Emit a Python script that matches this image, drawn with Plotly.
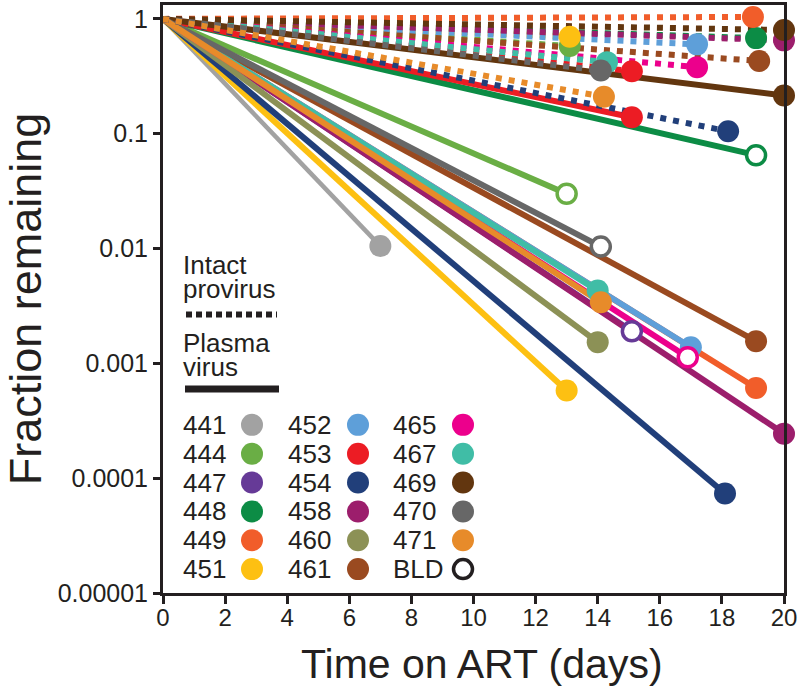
import plotly.graph_objects as go

# ---------------- data ----------------
ids = ["441", "444", "447", "448", "449", "451", "452", "453", "454",
       "458", "460", "461", "465", "467", "469", "470", "471"]
colors = ["#a2a2a2", "#6aae45", "#663a97", "#0c8c45", "#f15d2a", "#fdc012",
          "#5e9fd9", "#ec1c24", "#213f7a", "#9c1e6c", "#8c9156", "#9a4a20",
          "#ec008c", "#40bda6", "#62360f", "#676767", "#e78b2a"]
# plasma virus (solid) end points
plasma_day = [7.0, 13.0, 15.1, 19.1, 19.1, 13.0, 17.0, 15.1, 18.1,
              20.0, 14.0, 19.1, 16.9, 14.0, 20.0, 14.1, 14.1]
plasma_val = [0.0105, 0.030, 0.0019, 0.065, 0.00061, 0.00058, 0.00138, 0.139, 0.0000736,
              0.000244, 0.00153, 0.00156, 0.00113, 0.0043, 0.215, 0.0104, 0.0034]
plasma_bld = [False, True, True, True, False, False, False, False, False,
              False, False, False, True, False, False, True, False]
# intact provirus (dotted) end points, None = not measured
intact_day = [None, 13.1, None, 19.1, 19.0, 13.1, 17.2, 15.1, 18.2,
              20.0, None, 19.2, 17.2, 14.3, 20.0, 14.1, 14.2]
intact_val = [None, 0.58, None, 0.68, 1.04, 0.70, 0.60, 0.35, 0.105,
              0.65, None, 0.43, 0.38, 0.42, 0.80, 0.355, 0.21]

y_tickvals = [1e-5, 1e-4, 1e-3, 1e-2, 1e-1, 1]
y_ticktext = ["0.00001", "0.0001", "0.001", "0.01", "0.1", "1"]
x_tickvals = [0, 2, 4, 6, 8, 10, 12, 14, 16, 18, 20]
bld_label = "BLD"
x_title = "Time on ART (days)"
y_title = "Fraction remaining"

# ---------------- figure ----------------
W, H = 800, 694
ML, MR, MT, MB = 163, 16, 2, 101
PW, PH = W - ML - MR, H - MT - MB
AX = "#231f20"
NARROW = "Liberation Sans Narrow, Arial Narrow, Liberation Sans, Arial, sans-serif"
SANS = "Liberation Sans, Arial, sans-serif"

def px2x(px):
    return (px - ML) / PW

def py2y(py):
    return (H - MB - py) / PH

fig = go.Figure()

# solid plasma lines
for i, c in enumerate(colors):
    fig.add_trace(go.Scatter(
        x=[0, plasma_day[i]], y=[1, plasma_val[i]], mode="lines",
        line=dict(color=c, width=4.5 if ids[i] == "441" else 6),
        hoverinfo="skip", showlegend=False))

# dotted intact lines
for i, c in enumerate(colors):
    if intact_day[i] is None:
        continue
    fig.add_trace(go.Scatter(
        x=[0, intact_day[i]], y=[1, intact_val[i]], mode="lines",
        line=dict(color=c, width=6, dash="6px,7px"),
        hoverinfo="skip", showlegend=False))

# end markers
for i, c in enumerate(colors):
    if intact_day[i] is not None:
        fig.add_trace(go.Scatter(
            x=[intact_day[i]], y=[intact_val[i]], mode="markers",
            marker=dict(size=22, color=c, line=dict(width=0)),
            cliponaxis=False, showlegend=False))
for i, c in enumerate(colors):
    if plasma_bld[i]:
        mk = dict(size=19, color="white", line=dict(color=c, width=3.5))
    else:
        mk = dict(size=22, color=c, line=dict(width=0))
    fig.add_trace(go.Scatter(
        x=[plasma_day[i]], y=[plasma_val[i]], mode="markers",
        marker=mk, cliponaxis=False, showlegend=False))

# ---------------- custom legend (overlay axis 0..1) ----------------
rows = 6
row_y0, row_dy = 424, 29
text_x = [183, 288, 393]
dot_x = [252, 358, 463]
entries = [(ids[i], colors[i], False) for i in range(len(ids))] + [(bld_label, "#231f20", True)]
annotations = []
for k, (lab, c, is_bld) in enumerate(entries):
    col, row = divmod(k, rows)
    py = row_y0 + row * row_dy
    annotations.append(dict(
        x=px2x(text_x[col] - 2), y=py2y(py), xref="paper", yref="paper",
        text=lab, showarrow=False, xanchor="left", yanchor="middle",
        font=dict(family=SANS, size=26, color="#231f20")))
    if is_bld:
        mk = dict(size=19, color="white", line=dict(color=c, width=3.5))
    else:
        mk = dict(size=22, color=c, line=dict(width=0))
    fig.add_trace(go.Scatter(
        x=[px2x(dot_x[col])], y=[py2y(py)], xaxis="x2", yaxis="y2",
        mode="markers", marker=mk, showlegend=False, hoverinfo="skip"))

for txt, py in [("Intact", 263), ("provirus", 287), ("Plasma", 342), ("virus", 366)]:
    annotations.append(dict(
        x=px2x(181), y=py2y(py), xref="paper", yref="paper", text=txt,
        showarrow=False, xanchor="left", yanchor="middle",
        font=dict(family=SANS, size=26, color="#231f20")))

# x-axis title (centred as in the reference)
annotations.append(dict(
    x=px2x(482), y=py2y(664), xref="paper", yref="paper", text=x_title,
    showarrow=False, xanchor="center", yanchor="middle",
    font=dict(family=NARROW, size=41, color="#231f20")))

shapes = [
    dict(type="line", xref="paper", yref="paper",
         x0=px2x(186), x1=px2x(277), y0=py2y(313), y1=py2y(313),
         line=dict(color="#231f20", width=6, dash="6px,4px")),
    dict(type="line", xref="paper", yref="paper",
         x0=px2x(185), x1=px2x(279), y0=py2y(388), y1=py2y(388),
         line=dict(color="#231f20", width=7)),
]

fig.update_layout(
    width=W, height=H, autosize=False,
    margin=dict(l=ML, r=MR, t=MT, b=MB, pad=0),
    plot_bgcolor="white", paper_bgcolor="white",
    showlegend=False,
    annotations=annotations, shapes=shapes,
    xaxis=dict(range=[0, 20], tickvals=x_tickvals, showgrid=False, zeroline=False,
               showline=True, linecolor=AX, linewidth=3, mirror=True,
               ticks="outside", ticklen=8, tickwidth=3, tickcolor=AX,
               ticklabelstandoff=-7,
               tickfont=dict(family=NARROW, size=24, color="#231f20")),
    yaxis=dict(type="log", range=[-5, 0.121], tickvals=y_tickvals, ticktext=y_ticktext,
               showgrid=False, zeroline=False,
               showline=True, linecolor=AX, linewidth=3, mirror=True,
               ticks="outside", ticklen=7, tickwidth=3, tickcolor=AX,
               tickfont=dict(family=SANS, size=25, color="#231f20"),
               title=dict(text=y_title, standoff=10,
                          font=dict(family=SANS, size=45, color="#231f20"))),
    xaxis2=dict(overlaying="x", range=[0, 1], visible=False, fixedrange=True),
    yaxis2=dict(overlaying="y", range=[0, 1], visible=False, fixedrange=True),
)

fig.write_html("out.html", config={"displayModeBar": False},
               post_script="document.body.style.margin='0px';")
